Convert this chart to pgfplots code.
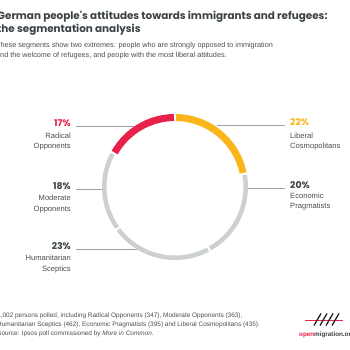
\documentclass[border=0pt]{standalone}
\usepackage{pgfplots}
\pgfplotsset{compat=1.18}
\usepackage{fontspec}
\setmainfont{Liberation Sans}
\newfontfamily\titlefont{Poppins}
\newfontfamily\pctfont{Poppins}
\definecolor{cred}{HTML}{E8214A}
\definecolor{cyellow}{HTML}{FBB41A}
\definecolor{cgray}{HTML}{CDD0D1}
\definecolor{cline}{HTML}{9DA2A4}
\definecolor{ctitle}{HTML}{3A4245}
\definecolor{ctext}{HTML}{4A4F52}
\gdef\cum{90}
\newcommand\donutseg[3]{%
  \pgfmathsetmacro\sa{\cum-0.9}%
  \pgfmathsetmacro\ea{\cum-3.6*#1+0.9}%
  \pgfmathsetmacro\rr{73-#3/2}%
  \pgfmathsetmacro\sx{\rr*cos(\sa)}%
  \pgfmathsetmacro\sy{\rr*sin(\sa)}%
  \edef\temp{\noexpand\draw[line width=#3bp,color=#2] (axis cs:\sx,\sy) arc[start angle=\sa,end angle=\ea,radius=\rr bp];}%
  \temp
  \pgfmathsetmacro\newcum{\cum-3.6*#1}%
  \global\let\cum\newcum
}
\tikzset{pct/.style={font=\pctfont\bfseries\fontsize{9.3bp}{10bp}\selectfont},
  lab/.style={text=ctext,font=\fontsize{7.6bp}{9bp}\selectfont},
  foot/.style={anchor=base west,text=ctext,font=\fontsize{6.45bp}{9bp}\selectfont}}
\begin{document}
\begin{tikzpicture}
\path[use as bounding box] (0,0) rectangle (350bp,350bp);
\clip (0,0) rectangle (350bp,350bp);
\fill[white] (0,0) rectangle (350bp,350bp);
% donut
\begin{axis}[at={(175bp,163bp)},anchor=center,x=1bp,y=1bp,xmin=-100,xmax=100,ymin=-100,ymax=100,hide axis,clip=false]
\donutseg{22}{cyellow}{7}
\donutseg{20}{cgray}{4.5}
\donutseg{23}{cgray}{4.5}
\donutseg{18}{cgray}{4.5}
\donutseg{17}{cred}{7}
\end{axis}
\begin{scope}[yshift=350bp,x=1bp,y=-1bp,every node/.style={inner sep=0}]
% title
\node[anchor=base west,text=ctitle,font=\titlefont\bfseries\fontsize{10.4bp}{12bp}\selectfont] at (-3,20) {German people's attitudes towards immigrants and refugees:};
\node[anchor=base west,text=ctitle,font=\titlefont\bfseries\fontsize{10.4bp}{12bp}\selectfont] at (-3,33) {the segmentation analysis};
\node[anchor=base west,text=ctext,font=\fontsize{7.25bp}{9bp}\selectfont] at (-4,48) {These segments show two extremes: people who are strongly opposed to immigration};
\node[anchor=base west,text=ctext,font=\fontsize{7.25bp}{9bp}\selectfont] at (-4,57.5) {and the welcome of refugees, and people with the most liberal attitudes.};
% leader lines
\draw[cline,line width=0.6bp] (76,126.5)--(134,126.5);
\draw[cline,line width=0.6bp] (76,189)--(102,189);
\draw[cline,line width=0.6bp] (76,249)--(137,249);
\draw[cline,line width=0.6bp] (217,125.5)--(285,125.5);
\draw[cline,line width=0.6bp] (248,188.5)--(285,188.5);
% left labels
\node[pct,anchor=base east,text=cred] at (71,126.5) {17\%};
\node[lab,anchor=base east] at (71,138.3) {Radical};
\node[lab,anchor=base east] at (71,148.5) {Opponents};
\node[pct,anchor=base east,text=ctitle] at (71,189.5) {18\%};
\node[lab,anchor=base east] at (71,201) {Moderate};
\node[lab,anchor=base east] at (71,211.5) {Opponents};
\node[pct,anchor=base east,text=ctitle] at (71,249.5) {23\%};
\node[lab,anchor=base east] at (71,261) {Humanitarian};
\node[lab,anchor=base east] at (71,271.5) {Sceptics};
% right labels
\node[pct,anchor=base west,text=cyellow] at (290,125.8) {22\%};
\node[lab,anchor=base west] at (290,138.3) {Liberal};
\node[lab,anchor=base west] at (290,148.8) {Cosmopolitans};
\node[pct,anchor=base west,text=ctitle] at (290,188.5) {20\%};
\node[lab,anchor=base west] at (290,198.8) {Economic};
\node[lab,anchor=base west] at (290,209) {Pragmatists};
% footer
\node[foot] at (-3,318) {1,002 persons polled, including Radical Opponents (347), Moderate Opponents (363),};
\node[foot] at (-3,327) {Humanitarian Sceptics (462), Economic Pragmatists (395) and Liberal Cosmopolitans (435).};
\node[foot] at (-3,336) {Source: Ipsos poll commissioned by \textit{More in Common}.};
% logo
\draw[cred,line width=1.2bp] (305,320.5)--(343,320.5);
\foreach \i in {0,1,2,3}{\draw[black!85,line width=1.3bp] (314+6*\i,325.5)--(321+6*\i,313.5);}
\node[anchor=base west,font=\bfseries\fontsize{6.3bp}{8bp}\selectfont] at (299,337) {\textcolor{cred}{open}\textcolor{ctitle}{migration.org}};
\end{scope}
\end{tikzpicture}
\end{document}
